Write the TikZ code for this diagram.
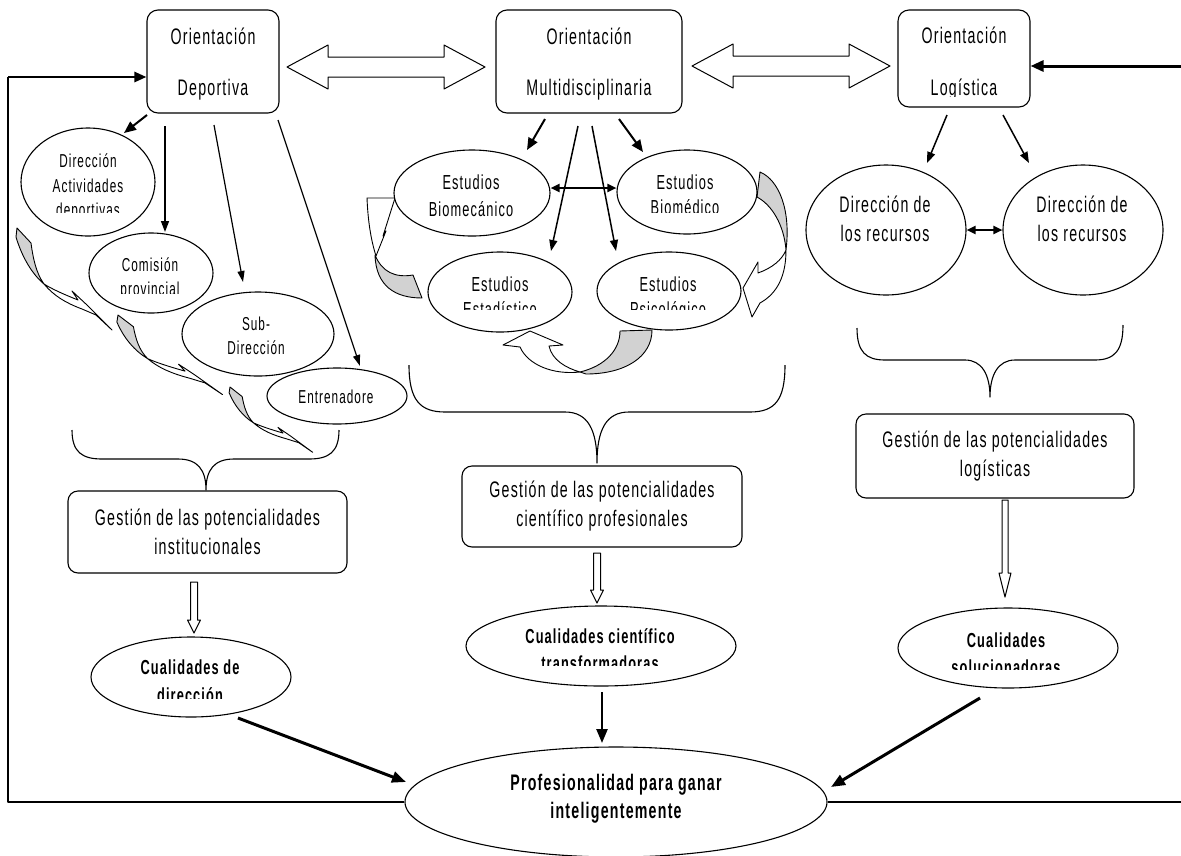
\documentclass[tikz,border=0pt]{standalone}
\usepackage{fontspec}
\setmainfont{Liberation Sans}[FakeStretch=0.63,LetterSpace=5.5]
\usetikzlibrary{arrows.meta,shapes.geometric}
\newcommand\fzA{\fontsize{22.5}{29}\selectfont}
\newcommand\fzB{\fontsize{20.3}{26}\selectfont}
\newcommand\fzC{\fontsize{18.7}{24}\selectfont}
\newcommand\curveL{%
  \path[gfill] (0,0) -- (14,15) .. controls (16,30) and (19,45) .. (27,56) .. controls (15,46) and (5,29) .. (-1,9) -- cycle;
  \path[wfill] (27,56) .. controls (37,68) and (49,75) .. (65,81) -- (79,87) -- (95,102) -- (70,77) -- (55,63) -- (61,72) .. controls (46,66) and (35,61) .. (27,56) -- cycle;
}
\begin{document}
\begin{tikzpicture}[x=1pt,y=-1pt,line join=round,
  box/.style={draw,rounded corners=11pt,line width=1.1pt,fill=white,inner sep=0pt},
  ell/.style={draw,ellipse,line width=1.1pt,fill=white,inner sep=0pt},
  tx/.style={inner sep=0pt,anchor=base},
  hol/.style={draw,fill=white,line width=1pt},
  gfill/.style={draw,fill=gray!35,line width=0.9pt},
  wfill/.style={draw,fill=white,line width=0.9pt},
  brace/.style={draw,line width=1.1pt},
  arrT/.style={-{Triangle[length=12pt,width=10pt]},line width=2pt},
  arrM/.style={-{Triangle[length=11pt,width=8pt]},line width=1.5pt},
  arrS/.style={-{Triangle[length=11pt,width=7pt]},line width=1.2pt},
  darr/.style={{Triangle[length=9pt,width=8pt]}-{Triangle[length=9pt,width=8pt]},line width=2pt},
  arrB/.style={-{Triangle[length=14pt,width=11pt]},line width=3pt}]
\useasboundingbox (0,0) rectangle (1181,855);
\fill[white] (0,0) rectangle (1181,855);

% ---------- curved ribbon arrows (drawn beneath the ellipses)
\begin{scope}[shift={(17,228)}]\curveL\end{scope}
\begin{scope}[shift={(118,315)},xscale=1.1,yscale=0.78]\curveL\end{scope}
\begin{scope}[shift={(230,387)},xscale=0.87,yscale=0.64]\curveL\end{scope}
% middle left
\path[gfill] (375,255) .. controls (382,272) and (395,278) .. (413,275) -- (422,298) .. controls (395,298) and (376,286) .. (375,255) -- cycle;
\path[wfill] (367,198) -- (395,198) -- (383,236) -- (386,231) -- (376,256) .. controls (371,240) and (368,222) .. (367,198) -- cycle;
% middle right
\path[gfill] (760,172) .. controls (779,180) and (791,210) .. (786,250) .. controls (784,225) and (772,205) .. (757,197) -- cycle;
\path[wfill] (786,250) .. controls (786,275) and (778,293) .. (760,303) -- (752,317) -- (743,288) -- (758,262) -- (758,273) .. controls (772,268) and (782,260) .. (786,250) -- cycle;
% middle bottom
\path[gfill] (620,331) -- (652,330) .. controls (652,357) and (625,374) .. (586,374) -- (580,372) .. controls (605,366) and (620,350) .. (620,331) -- cycle;
\path[wfill] (580,372) .. controls (553,375) and (528,365) .. (520,347) -- (503,345) -- (530,331) -- (563,345) -- (549,346) .. controls (552,360) and (566,368) .. (580,372) -- cycle;

% ---------- top boxes
\node[box,minimum width=132pt,minimum height=103pt] (dep) at (213,61.5) {};
\node[box,minimum width=186pt,minimum height=103pt] (mul) at (589,61.5) {};
\node[box,minimum width=132pt,minimum height=97pt] (log) at (964,58.5) {};
\node[tx,font=\fzA] (dep1) at (213,44) {Orientación};
\node[tx,font=\fzA] (dep2) at (213,95) {Deportiva};
\node[tx,font=\fzA] (mul1) at (589,44) {Orientación};
\node[tx,font=\fzA] (mul2) at (589,95) {Multidisciplinaria};
\node[tx,font=\fzA] (log1) at (964,43) {Orientación};
\begin{scope}\clip (900,70) rectangle (1028,96);
\node[tx,font=\fzA] (log2) at (964,95) {Logística};
\end{scope}

% hollow double arrows
\path[hol] (287,67) -- (328,45) -- (328,57) -- (444,57) -- (444,45) -- (485,67) -- (444,89) -- (444,77) -- (328,77) -- (328,89) -- cycle;
\path[hol] (692,66) -- (733,44) -- (733,56) -- (849,56) -- (849,44) -- (890,66) -- (849,88) -- (849,76) -- (733,76) -- (733,88) -- cycle;

% ---------- left column
\node[ell,minimum width=134pt,minimum height=108pt] (dirA) at (88,182) {};
\node[ell,minimum width=124pt,minimum height=80pt] (com) at (151,273) {};
\node[ell,minimum width=152pt,minimum height=84pt] (sub) at (258,334) {};
\node[ell,minimum width=140pt,minimum height=56pt] (ent) at (337,396) {};
\node[tx,font=\fzC] (dirA1) at (88,167) {Dirección};
\node[tx,font=\fzC] (dirA2) at (88,192) {Actividades};
\begin{scope}\clip (30,195) rectangle (150,212);
\node[tx,font=\fzC] (dirA3) at (88,216) {deportivas};
\end{scope}
\node[tx,font=\fzC] (com1) at (150,271) {Comisión};
\begin{scope}\clip (95,275) rectangle (210,293);
\node[tx,font=\fzC] (com2) at (150,295) {provincial};
\end{scope}
\node[tx,font=\fzC] (sub1) at (256,330) {Sub-};
\node[tx,font=\fzC] (sub2) at (256,354) {Dirección};
\node[tx,font=\fzC] (ent1) at (336,403) {Entrenadore};

% ---------- middle column
\node[ell,minimum width=156pt,minimum height=86pt] (bmc) at (472,193) {};
\node[ell,minimum width=140pt,minimum height=84pt] (bmd) at (687,192) {};
\node[ell,minimum width=144pt,minimum height=80pt] (est) at (500,292) {};
\node[ell,minimum width=144pt,minimum height=78pt] (psi) at (669,291) {};
\node[tx,font=\fzB] (bmc1) at (471,189) {Estudios};
\node[tx,font=\fzB] (bmc2) at (471,216) {Biomecánico};
\node[tx,font=\fzB] (bmd1) at (685,189) {Estudios};
\begin{scope}\clip (620,195) rectangle (755,212);
\node[tx,font=\fzB] (bmd2) at (685,214) {Biomédico};
\end{scope}
\node[tx,font=\fzB] (est1) at (500,291) {Estudios};
\begin{scope}\clip (430,295) rectangle (570,309);
\node[tx,font=\fzB] (est2) at (500,316) {Estadístico};
\end{scope}
\node[tx,font=\fzB] (psi1) at (668,291) {Estudios};
\begin{scope}\clip (600,295) rectangle (740,309);
\node[tx,font=\fzB] (psi2) at (668,316) {Psicológico};
\end{scope}

% ---------- right column
\node[ell,minimum width=160pt,minimum height=130pt] (rec1) at (886,230) {};
\node[ell,minimum width=160pt,minimum height=130pt] (rec2) at (1083,230) {};
\node[tx,font=\fzA] (rec1a) at (885,212) {Dirección de};
\node[tx,font=\fzA] (rec1b) at (885,241) {los recursos};
\node[tx,font=\fzA] (rec2a) at (1082,212) {Dirección de};
\node[tx,font=\fzA] (rec2b) at (1082,241) {los recursos};

% ---------- braces
\draw[brace] (72,430) .. controls (72,452) and (82,459) .. (102,459) -- (178,459) .. controls (198,459) and (206,470) .. (206,490) .. controls (206,470) and (214,459) .. (234,459) -- (309,459) .. controls (329,459) and (339,452) .. (339,430);
\draw[brace] (409,365) .. controls (409,400) and (420,412) .. (445,412) -- (565,412) .. controls (588,412) and (597,430) .. (597,463) .. controls (597,430) and (606,412) .. (629,412) -- (750,412) .. controls (775,412) and (785,400) .. (785,365);
\draw[brace] (857,328) .. controls (857,352) and (866,360) .. (885,360) -- (965,360) .. controls (982,360) and (990,375) .. (990,397) .. controls (990,375) and (998,360) .. (1015,360) -- (1095,360) .. controls (1115,360) and (1123,350) .. (1123,325);

% ---------- Gestion boxes
\node[box,rounded corners=10pt,minimum width=279pt,minimum height=82pt,align=center,font=\fzA] (g1) at (207.5,532) {Gestión de las potencialidades\\institucionales};
\node[box,rounded corners=10pt,minimum width=280pt,minimum height=81pt,align=center,font=\fzA] (g2) at (602,506.5) {Gestión de las potencialidades\\científico profesionales};
\node[box,rounded corners=10pt,minimum width=278pt,minimum height=84pt,align=center,font=\fzA] (g3) at (995,456) {Gestión de las potencialidades\\logísticas};

% hollow down arrows
\path[hol] (190.5,582) -- (197.5,582) -- (197.5,620) -- (200.5,620) -- (194,633) -- (187.5,620) -- (190.5,620) -- cycle;
\path[hol] (593.5,553) -- (600.5,553) -- (600.5,590) -- (603.5,590) -- (597,603) -- (590.5,590) -- (593.5,590) -- cycle;
\path[hol] (1002,500) -- (1008,500) -- (1008,573) -- (1011,573) -- (1005,597) -- (999,573) -- (1002,573) -- cycle;

% ---------- qualities and final ellipse
\node[ell,minimum width=200pt,minimum height=80pt] (c1) at (191,677) {};
\node[ell,minimum width=270pt,minimum height=80pt] (c2) at (601,646) {};
\node[ell,minimum width=220pt,minimum height=80pt] (c3) at (1008,648) {};
\node[ell,minimum width=422pt,minimum height=110pt] (fin) at (616,802) {};
\node[tx,font=\fzB\bfseries] (c1a) at (190,674) {Cualidades de};
\begin{scope}\clip (100,680) rectangle (285,698);
\node[tx,font=\fzB\bfseries] (c1b) at (190,702) {dirección};
\end{scope}
\node[tx,font=\fzB\bfseries] (c2a) at (600,643) {Cualidades científico};
\begin{scope}\clip (480,648) rectangle (725,665);
\node[tx,font=\fzB\bfseries] (c2b) at (600,670) {transformadoras};
\end{scope}
\node[tx,font=\fzB\bfseries] (c3a) at (1006,647) {Cualidades};
\begin{scope}\clip (910,652) rectangle (1110,669);
\node[tx,font=\fzB\bfseries] (c3b) at (1006,674) {solucionadoras};
\end{scope}
\node[tx,font=\fzA\bfseries] (fin1) at (616,790) {Profesionalidad para ganar};
\node[tx,font=\fzA\bfseries] (fin2) at (616,818) {inteligentemente};

% ---------- connectors
\coordinate (a1s) at (147,115); \coordinate (a1e) at (124,133);
\coordinate (a2s) at (165,126); \coordinate (a2e) at (165,232);
\coordinate (a3s) at (214,125); \coordinate (a3e) at (243,282);
\coordinate (a4s) at (278,120); \coordinate (a4e) at (360,366);
\draw[arrT] (a1s) -- (a1e);
\draw[arrM] (a2s) -- (a2e);
\draw[arrS] (a3s) -- (a3e);
\draw[arrS] (a4s) -- (a4e);
\coordinate (m1s) at (545,119); \coordinate (m1e) at (527,150);
\coordinate (m2s) at (578,126); \coordinate (m2e) at (551,251);
\coordinate (m3s) at (592,126); \coordinate (m3e) at (616,251);
\coordinate (m4s) at (619,119); \coordinate (m4e) at (643,152);
\draw[arrT] (m1s) -- (m1e);
\draw[arrM] (m2s) -- (m2e);
\draw[arrM] (m3s) -- (m3e);
\draw[arrT] (m4s) -- (m4e);
\draw[darr] (bmc.east |- 0,188) -- (bmd.west |- 0,188);
\coordinate (r1s) at (947,115); \coordinate (r1e) at (927,163);
\coordinate (r2s) at (1003,115); \coordinate (r2e) at (1029,163);
\draw[arrM] (r1s) -- (r1e);
\draw[arrM] (r2s) -- (r2e);
\draw[darr] (rec1.east) -- (rec2.west);
\coordinate (b1s) at (238,718); \coordinate (b1e) at (406,782);
\coordinate (b2s) at (602,692); \coordinate (b2e) at (602,743);
\coordinate (b3s) at (980,698); \coordinate (b3e) at (831,787);
\draw[arrB] (b1s) -- (b1e);
\draw[arrB,line width=2.5pt] (b2s) -- (b2e);
\draw[arrB] (b3s) -- (b3e);

% ---------- feedback lines
\coordinate (fbl) at (8,802); \coordinate (fbt) at (8,77);
\coordinate (fbr) at (1181,802); \coordinate (fbrt) at (1181,66);
\draw[line width=1.3pt] (fin.west) -- (fbl) -- (fbt);
\draw[line width=2.6pt,-{Triangle[length=12pt,width=10pt]}] (fbt) -- (dep.west |- fbt);
\draw[line width=1.3pt] (fin.east) -- (fbr);
\draw[line width=3pt,-{Triangle[length=13pt,width=11pt]}] (fbrt) -- (log.east |- fbrt);
\end{tikzpicture}
\end{document}
